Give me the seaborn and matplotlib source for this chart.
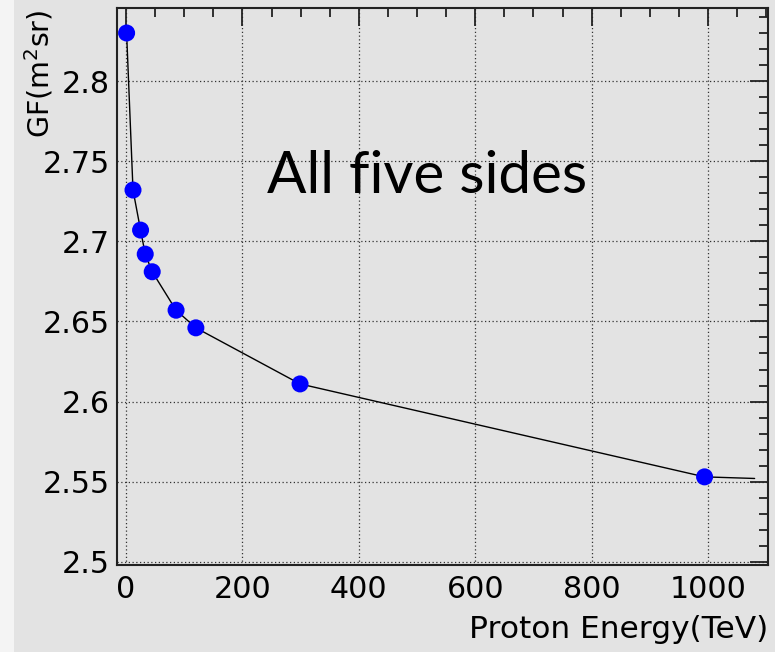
import matplotlib
matplotlib.use("Agg")
import matplotlib.pyplot as plt
from matplotlib.ticker import MultipleLocator
from matplotlib.patches import Rectangle
import seaborn as sns
import pandas as pd

# ---- data ----
energy_tev = [1, 12, 25, 33, 45, 86, 120, 299, 994]
gf_m2sr = [2.830, 2.732, 2.707, 2.692, 2.681, 2.657, 2.646, 2.611, 2.553]
# drawn curve continues a little past the last point
curve_x = energy_tev + [1080]
curve_y = gf_m2sr + [2.552]

x_ticks = [0, 200, 400, 600, 800, 1000]
y_ticks = [2.5, 2.55, 2.6, 2.65, 2.7, 2.75, 2.8]
y_tick_labels = ["2.5", "2.55", "2.6", "2.65", "2.7", "2.75", "2.8"]
annotation = "All five sides"
x_label = "Proton Energy(TeV)"
y_label = "GF(m$^2$sr)"

sns.set_theme(style="white")
plt.rcParams["font.family"] = ["DejaVu Sans"]
plt.rcParams["mathtext.default"] = "regular"

BG = "#e3e3e3"
W, H = 775, 652
fig = plt.figure(figsize=(W / 100, H / 100), dpi=100, facecolor=BG)
# light strip on the very left of the screenshot
fig.patches.append(Rectangle((0, 0), 14 / W, 1, transform=fig.transFigure,
                             facecolor="#f4f4f4", edgecolor="none", zorder=-10))

ax = fig.add_axes([117 / W, 1 - 565 / H, (768 - 117) / W, (565 - 8) / H])
ax.set_facecolor(BG)

df_pts = pd.DataFrame({"E": energy_tev, "GF": gf_m2sr})
df_curve = pd.DataFrame({"E": curve_x, "GF": curve_y})

sns.lineplot(data=df_curve, x="E", y="GF", ax=ax, color="black", lw=1.0,
             sort=False, zorder=3)
sns.scatterplot(data=df_pts, x="E", y="GF", ax=ax, color="#0000ff",
                s=150, edgecolor="none", zorder=4)

ax.set_xlim(-15.5, 1103)
ax.set_ylim(2.498, 2.8456)

ax.set_xticks(x_ticks)
ax.set_yticks(y_ticks)
ax.set_yticklabels(y_tick_labels)
ax.xaxis.set_minor_locator(MultipleLocator(50))
ax.yaxis.set_minor_locator(MultipleLocator(0.01))

ax.tick_params(which="both", direction="in", top=True, right=True,
               labeltop=False, labelright=False, color="#222222",
               width=1.3, labelsize=21.7, labelcolor="black")
ax.tick_params(which="major", length=13)
ax.tick_params(which="minor", length=6.5)
ax.tick_params(axis="x", which="major", pad=7)
ax.tick_params(axis="y", which="major", pad=5)

ax.grid(True, which="major", color="#333333", linestyle=(0, (1, 2)), lw=0.9)
for s in ax.spines.values():
    s.set_visible(True)
    s.set_color("#222222")
    s.set_linewidth(1.5)

ax.set_xlabel("")
ax.set_ylabel("")

ax.text(518, 2.73, annotation, ha="center", va="baseline",
        fontsize=42, family=["Lato", "DejaVu Sans"], color="black", zorder=5)

fig.text(768 / W, 1 - 638 / H, x_label, ha="right", va="baseline",
         fontsize=22.5, color="black")
fig.text(39 / W, 1 - 10 / H, y_label, ha="center", va="top", rotation=90,
         fontsize=20.5, color="black")

fig.savefig("out.png", dpi=100, facecolor=BG)
